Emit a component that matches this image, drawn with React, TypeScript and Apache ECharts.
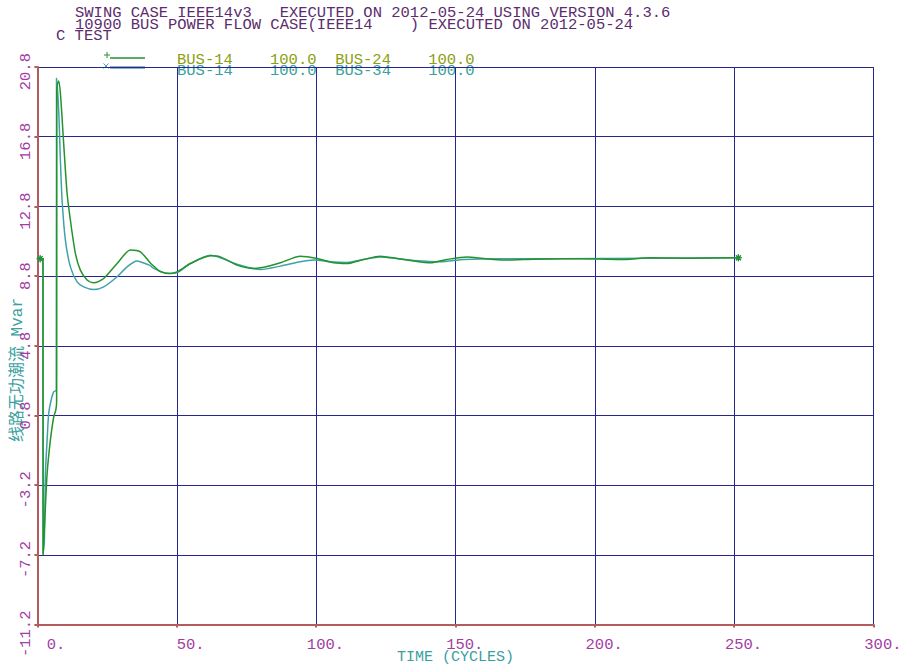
import React, { useEffect, useRef } from "react";
import * as echarts from "echarts";

// ---- data ----
const titleLines = [
  "SWING CASE IEEE14v3   EXECUTED ON 2012-05-24 USING VERSION 4.3.6",
  "10900 BUS POWER FLOW CASE(IEEE14    ) EXECUTED ON 2012-05-24",
  "C TEST",
];
const legendTexts = [
  "BUS-14    100.0  BUS-24    100.0",
  "BUS-14    100.0  BUS-34    100.0",
];
const xTitle = "TIME (CYCLES)";
const yTitle = "线路无功潮流 Mvar";

const greenTime = [1, 2.0, 2.05, 2.87, 3.48, 4.66, 5.85, 6.6, 6.9, 6.95, 7.6, 8.25, 9.43, 10.65, 11.84, 13.63, 15.42, 17.83, 20.19, 23.78, 28.59, 33.36, 36.94, 40.53, 41.7, 44.1, 47.7, 50.1, 54.9, 62.1, 65.6, 71.6, 77.6, 81.2, 87.2, 94.3, 100.3, 106.3, 111.1, 117.0, 123.0, 129.0, 135.0, 141.0, 146.9, 154.1, 160.1, 167.3, 174.4, 187.6, 201.9, 209.1, 219.9, 234.2, 251.5];
const greenValues = [9.8, 9.8, -7.23, -4.45, -2.54, -0.62, 0.71, 1.1, 1.6, 19.5, 20.0, 19.3, 16.4, 13.55, 12.0, 10.1, 9.14, 8.57, 8.41, 8.66, 9.52, 10.29, 10.19, 9.55, 9.38, 9.06, 8.95, 9.04, 9.52, 9.96, 9.9, 9.43, 9.24, 9.3, 9.56, 9.94, 9.81, 9.56, 9.52, 9.75, 9.94, 9.81, 9.66, 9.56, 9.75, 9.9, 9.81, 9.72, 9.75, 9.8, 9.78, 9.75, 9.85, 9.82, 9.85];

const tealTime = [1, 2.0, 2.05, 2.5, 2.87, 3.48, 4.05, 4.91, 5.85, 6.81, 6.86, 7.64, 8.25, 8.86, 10.04, 11.84, 14.24, 16.61, 20.19, 23.78, 28.59, 32.17, 35.76, 36.9, 40.5, 41.7, 46.5, 50.1, 54.9, 62.1, 71.6, 80.0, 87.2, 94.3, 99.1, 105.1, 111.1, 117.0, 123.0, 129.0, 135.0, 144.5, 152.9, 166.1, 187.6, 219.9, 251.5];
const tealValues = [9.8, 9.8, -7.1, -6.4, -2.54, -0.62, 0.91, 1.67, 2.15, 2.25, 20.15, 18.3, 15.46, 13.15, 10.86, 9.33, 8.47, 8.18, 8.03, 8.18, 8.76, 9.33, 9.66, 9.62, 9.4, 9.24, 8.95, 9.0, 9.52, 10.0, 9.48, 9.18, 9.37, 9.62, 9.72, 9.62, 9.58, 9.75, 9.9, 9.81, 9.7, 9.62, 9.75, 9.8, 9.8, 9.82, 9.85];

const xMin = 0, xMax = 300, xStep = 50;
const yMin = -11.2, yMax = 20.8, yStep = 4;

// ---- styles ----
const MONO = '"Liberation Mono", "DejaVu Sans Mono", monospace';
const GREEN = "#24932c";
const TEAL = "#3ea2a8";
const NAVY = "#26268e";
const AXIS = "#b45c5c";
const LABEL = "#a23ca2";
const TITLE = "#5c2d6e";
const NAMECOL = "#3aa0a0";
const LEG1 = "#8c9e10";
const ASTER = "path://M5,0L5,10M0,5L10,5M1.5,1.5L8.5,8.5M8.5,1.5L1.5,8.5";
const NB = "\u00a0";

function buildSeries(times: number[], vals: number[]) {
  return times.map((t, i) => {
    const end = i === 0 || i === times.length - 1;
    return end
      ? { value: [t, vals[i]], symbol: ASTER, symbolSize: 7 }
      : { value: [t, vals[i]] };
  });
}

function yLabel(v: number) {
  const s = (Math.round(v * 10) / 10).toFixed(1);
  const dot = s.indexOf(".");
  const pad = dot - (s.length - dot - 1);
  return s + NB.repeat(Math.max(0, pad));
}

function xLabel(v: number) {
  const s = Math.round(v) + ".";
  // right-justified 4-character field, preceded by two blank cells
  return NB.repeat(2 + Math.max(0, 4 - s.length)) + s;
}

export default function App() {
  const ref = useRef<HTMLDivElement>(null);
  useEffect(() => {
    if (!ref.current) return;
    const chart = echarts.init(ref.current, undefined, { renderer: "svg" });
    const option: any = {
      animation: false,
      backgroundColor: "#ffffff",
      grid: {
        left: 37.4,
        right: 27.4,
        top: 67,
        bottom: 44.5,
        containLabel: false,
        outerBoundsMode: "none",
      },
      xAxis: {
        type: "value",
        min: xMin,
        max: xMax,
        interval: xStep,
        name: xTitle,
        nameLocation: "middle",
        nameGap: 25,
        nameMoveOverlap: false,
        nameTextStyle: { color: NAMECOL, fontFamily: MONO, fontSize: 15 },
        axisLine: { show: true, onZero: false, lineStyle: { color: AXIS, width: 2 } },
        axisTick: { show: true, length: 3, lineStyle: { color: AXIS, width: 2 } },
        axisLabel: {
          color: LABEL,
          fontFamily: MONO,
          fontSize: 15.5,
          margin: 12,
          align: "center",
          formatter: xLabel,
        },
        splitLine: { show: true, lineStyle: { color: NAVY, width: 1 } },
      },
      yAxis: {
        type: "value",
        min: yMin,
        max: yMax,
        interval: yStep,
        axisLine: { show: true, onZero: false, lineStyle: { color: AXIS, width: 2 } },
        axisTick: { show: true, length: 3, lineStyle: { color: AXIS, width: 2 } },
        axisLabel: {
          color: LABEL,
          fontFamily: MONO,
          fontSize: 15.5,
          rotate: 90,
          margin: 3,
          formatter: yLabel,
        },
        splitLine: { show: true, lineStyle: { color: NAVY, width: 1 } },
      },
      graphic: [
        ...titleLines.map((t, i) => ({
          type: "text",
          x: i === 2 ? 56 : 75,
          y: 13 + i * 11.5,
          style: {
            text: t,
            fill: TITLE,
            font: `15.5px ${MONO}`,
            textAlign: "left",
            textVerticalAlign: "middle",
            align: "left",
            verticalAlign: "middle",
          },
        })),
        { type: "line", shape: { x1: 110, y1: 58, x2: 145, y2: 58 }, style: { stroke: GREEN, lineWidth: 1.5 } },
        { type: "line", shape: { x1: 104, y1: 55, x2: 110, y2: 55 }, style: { stroke: GREEN, lineWidth: 1 } },
        { type: "line", shape: { x1: 107, y1: 52, x2: 107, y2: 58 }, style: { stroke: GREEN, lineWidth: 1 } },
        { type: "line", shape: { x1: 110, y1: 67.5, x2: 145, y2: 67.5 }, style: { stroke: "#1c6c84", lineWidth: 2 } },
        { type: "line", shape: { x1: 103.5, y1: 63.5, x2: 108.5, y2: 68.5 }, style: { stroke: TEAL, lineWidth: 1 } },
        { type: "line", shape: { x1: 108.5, y1: 63.5, x2: 103.5, y2: 68.5 }, style: { stroke: TEAL, lineWidth: 1 } },
        {
          type: "text",
          x: 177,
          y: 60,
          style: { text: legendTexts[0], fill: LEG1, font: `15.5px ${MONO}`, textAlign: "left", textVerticalAlign: "middle", align: "left", verticalAlign: "middle" },
        },
        {
          type: "text",
          x: 177,
          y: 71,
          style: { text: legendTexts[1], fill: NAMECOL, font: `15.5px ${MONO}`, textAlign: "left", textVerticalAlign: "middle", align: "left", verticalAlign: "middle" },
        },
        {
          type: "text",
          x: 18,
          y: 370,
          rotation: Math.PI / 2,
          style: {
            text: yTitle,
            fill: NAMECOL,
            font: `16px ${MONO}, "Noto Sans CJK SC"`,
            textAlign: "center",
            textVerticalAlign: "middle",
            align: "center",
            verticalAlign: "middle",
          },
        },
      ],
      series: [
        {
          name: "BUS-24",
          type: "line",
          data: buildSeries(greenTime, greenValues),
          showSymbol: true,
          symbol: "none",
          smooth: 0.25,
          lineStyle: { color: GREEN, width: 1.5 },
          itemStyle: { color: GREEN, borderColor: GREEN, borderWidth: 1.2 },
          z: 3,
        },
        {
          name: "BUS-34",
          type: "line",
          data: buildSeries(tealTime, tealValues),
          showSymbol: true,
          symbol: "none",
          smooth: 0.25,
          lineStyle: { color: TEAL, width: 1.5 },
          itemStyle: { color: TEAL, borderColor: TEAL, borderWidth: 1.2 },
          z: 2,
        },
      ],
    };
    chart.setOption(option);
    return () => chart.dispose();
  }, []);
  return (
    <div
      ref={ref}
      style={{ position: "absolute", left: 0, top: 0, width: 901, height: 669 }}
    />
  );
}
